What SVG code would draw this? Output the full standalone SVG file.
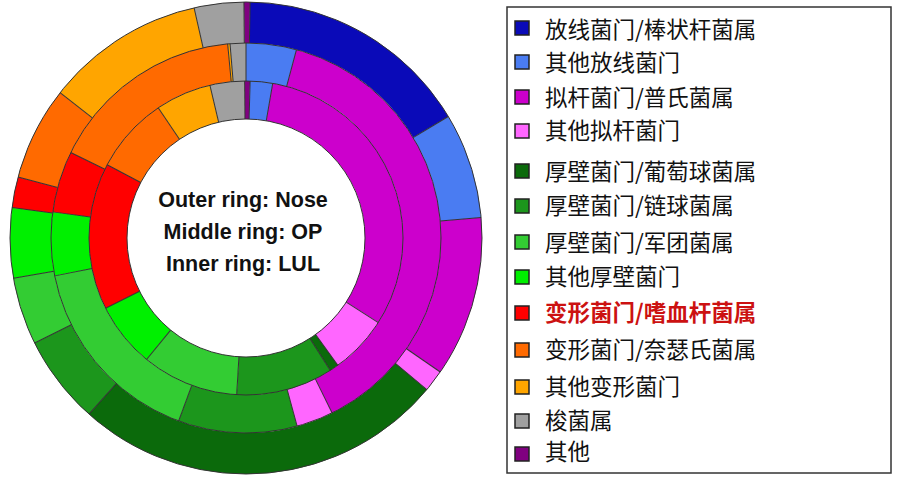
<svg xmlns="http://www.w3.org/2000/svg" width="900" height="479" viewBox="0 0 900 479">
<style>
.s{fill:none}
.o{stroke-width:41}
.m{stroke-width:38}
.i{stroke-width:38}
.sep{stroke:#333;stroke-width:1}
.ring{fill:none;stroke:#333;stroke-width:1}
.ct{font-family:"Liberation Sans",Arial,sans-serif;font-weight:bold;font-size:21.5px;fill:#111;text-anchor:middle}
.lt{font-family:"Noto Sans CJK SC","Liberation Sans",sans-serif;font-size:22.5px;fill:#111}
.sq{stroke:#222;stroke-width:1.5}
</style>
<rect width="900" height="479" fill="#fff"/>
<g transform="translate(246,238)">
<g id="outer-ring" transform="rotate(-90)">
<circle class="s o" r="215.5" pathLength="360" stroke="#800080" stroke-dasharray="1.5 358.5" stroke-dashoffset="0.5"/>
<circle class="s o" r="215.5" pathLength="360" stroke="#0a0ab8" stroke-dasharray="58 302" stroke-dashoffset="-1"/>
<circle class="s o" r="215.5" pathLength="360" stroke="#4a7cf2" stroke-dasharray="26 334" stroke-dashoffset="-59"/>
<circle class="s o" r="215.5" pathLength="360" stroke="#cc00cc" stroke-dasharray="39.6 320.4" stroke-dashoffset="-85"/>
<circle class="s o" r="215.5" pathLength="360" stroke="#ff66ff" stroke-dasharray="5.4 354.6" stroke-dashoffset="-124.6"/>
<circle class="s o" r="215.5" pathLength="360" stroke="#0b6a0b" stroke-dasharray="91.7 268.3" stroke-dashoffset="-130"/>
<circle class="s o" r="215.5" pathLength="360" stroke="#1c961c" stroke-dasharray="21.9 338.1" stroke-dashoffset="-221.7"/>
<circle class="s o" r="215.5" pathLength="360" stroke="#33cc33" stroke-dasharray="16.6 343.4" stroke-dashoffset="-243.6"/>
<circle class="s o" r="215.5" pathLength="360" stroke="#00f000" stroke-dasharray="17.2 342.8" stroke-dashoffset="-260.2"/>
<circle class="s o" r="215.5" pathLength="360" stroke="#ff0000" stroke-dasharray="7.6 352.4" stroke-dashoffset="-277.4"/>
<circle class="s o" r="215.5" pathLength="360" stroke="#ff6a00" stroke-dasharray="23 337" stroke-dashoffset="-285"/>
<circle class="s o" r="215.5" pathLength="360" stroke="#ffa500" stroke-dasharray="39.3 320.7" stroke-dashoffset="-308"/>
<circle class="s o" r="215.5" pathLength="360" stroke="#a0a0a0" stroke-dasharray="12.2 347.8" stroke-dashoffset="-347.3"/>
</g>
<g id="middle-ring" transform="rotate(-90)">
<circle class="s m" r="176" pathLength="360" stroke="#4a7cf2" stroke-dasharray="15 345" stroke-dashoffset="0"/>
<circle class="s m" r="176" pathLength="360" stroke="#cc00cc" stroke-dasharray="138.8 221.2" stroke-dashoffset="-15"/>
<circle class="s m" r="176" pathLength="360" stroke="#ff66ff" stroke-dasharray="11 349" stroke-dashoffset="-153.8"/>
<circle class="s m" r="176" pathLength="360" stroke="#1c961c" stroke-dasharray="35.4 324.6" stroke-dashoffset="-164.8"/>
<circle class="s m" r="176" pathLength="360" stroke="#33cc33" stroke-dasharray="58.6 301.4" stroke-dashoffset="-200.2"/>
<circle class="s m" r="176" pathLength="360" stroke="#00f000" stroke-dasharray="18.9 341.1" stroke-dashoffset="-258.8"/>
<circle class="s m" r="176" pathLength="360" stroke="#ff0000" stroke-dasharray="18.3 341.7" stroke-dashoffset="-277.7"/>
<circle class="s m" r="176" pathLength="360" stroke="#ff6a00" stroke-dasharray="58.6 301.4" stroke-dashoffset="-296"/>
<circle class="s m" r="176" pathLength="360" stroke="#ffa500" stroke-dasharray="0.7 359.3" stroke-dashoffset="-354.6"/>
<circle class="s m" r="176" pathLength="360" stroke="#a0a0a0" stroke-dasharray="4.7 355.3" stroke-dashoffset="-355.3"/>
</g>
<g id="inner-ring" transform="rotate(-90)">
<circle class="s i" r="138" pathLength="360" stroke="#800080" stroke-dasharray="2 358" stroke-dashoffset="0.5"/>
<circle class="s i" r="138" pathLength="360" stroke="#4a7cf2" stroke-dasharray="8.3 351.7" stroke-dashoffset="-1.5"/>
<circle class="s i" r="138" pathLength="360" stroke="#cc00cc" stroke-dasharray="112.8 247.2" stroke-dashoffset="-9.8"/>
<circle class="s i" r="138" pathLength="360" stroke="#ff66ff" stroke-dasharray="21.6 338.4" stroke-dashoffset="-122.6"/>
<circle class="s i" r="138" pathLength="360" stroke="#0b6a0b" stroke-dasharray="3.3 356.7" stroke-dashoffset="-144.2"/>
<circle class="s i" r="138" pathLength="360" stroke="#1c961c" stroke-dasharray="35.9 324.1" stroke-dashoffset="-147.5"/>
<circle class="s i" r="138" pathLength="360" stroke="#33cc33" stroke-dasharray="35.9 324.1" stroke-dashoffset="-183.4"/>
<circle class="s i" r="138" pathLength="360" stroke="#00f000" stroke-dasharray="24.1 335.9" stroke-dashoffset="-219.3"/>
<circle class="s i" r="138" pathLength="360" stroke="#ff0000" stroke-dasharray="54.4 305.6" stroke-dashoffset="-243.4"/>
<circle class="s i" r="138" pathLength="360" stroke="#ff6a00" stroke-dasharray="28.2 331.8" stroke-dashoffset="-297.8"/>
<circle class="s i" r="138" pathLength="360" stroke="#ffa500" stroke-dasharray="20.7 339.3" stroke-dashoffset="-326"/>
<circle class="s i" r="138" pathLength="360" stroke="#a0a0a0" stroke-dasharray="12.8 347.2" stroke-dashoffset="-346.7"/>
</g>
<g id="connectors">
<circle class="ring" r="236"/><circle class="ring" r="195"/><circle class="ring" r="157"/><circle class="ring" r="119"/>
<g class="sep">
<line y1="-195" y2="-236" transform="rotate(-0.5)"/><line y1="-195" y2="-236" transform="rotate(1)"/><line y1="-195" y2="-236" transform="rotate(59)"/><line y1="-195" y2="-236" transform="rotate(85)"/><line y1="-195" y2="-236" transform="rotate(124.6)"/><line y1="-195" y2="-236" transform="rotate(130)"/><line y1="-195" y2="-236" transform="rotate(221.7)"/><line y1="-195" y2="-236" transform="rotate(243.6)"/><line y1="-195" y2="-236" transform="rotate(260.2)"/><line y1="-195" y2="-236" transform="rotate(277.4)"/><line y1="-195" y2="-236" transform="rotate(285)"/><line y1="-195" y2="-236" transform="rotate(308)"/><line y1="-195" y2="-236" transform="rotate(347.3)"/>
<line y1="-157" y2="-195" transform="rotate(0)"/><line y1="-157" y2="-195" transform="rotate(15)"/><line y1="-157" y2="-195" transform="rotate(153.8)"/><line y1="-157" y2="-195" transform="rotate(164.8)"/><line y1="-157" y2="-195" transform="rotate(200.2)"/><line y1="-157" y2="-195" transform="rotate(258.8)"/><line y1="-157" y2="-195" transform="rotate(277.7)"/><line y1="-157" y2="-195" transform="rotate(296)"/><line y1="-157" y2="-195" transform="rotate(354.6)"/><line y1="-157" y2="-195" transform="rotate(355.3)"/>
<line y1="-119" y2="-157" transform="rotate(-0.5)"/><line y1="-119" y2="-157" transform="rotate(1.5)"/><line y1="-119" y2="-157" transform="rotate(9.8)"/><line y1="-119" y2="-157" transform="rotate(122.6)"/><line y1="-119" y2="-157" transform="rotate(144.2)"/><line y1="-119" y2="-157" transform="rotate(147.5)"/><line y1="-119" y2="-157" transform="rotate(183.4)"/><line y1="-119" y2="-157" transform="rotate(219.3)"/><line y1="-119" y2="-157" transform="rotate(243.4)"/><line y1="-119" y2="-157" transform="rotate(297.8)"/><line y1="-119" y2="-157" transform="rotate(326)"/><line y1="-119" y2="-157" transform="rotate(346.7)"/>
</g>
</g>
</g>
<g id="center-label">
<text class="ct" x="243" y="207">Outer ring: Nose</text>
<text class="ct" x="243" y="239">Middle ring: OP</text>
<text class="ct" x="243" y="271">Inner ring: LUL</text>
</g>
<g id="legend">
<rect x="507" y="7" width="384" height="466" fill="#fff" stroke="#333" stroke-width="1.5"/>
<g id="lg1"><rect class="sq" x="515" y="21" width="14" height="14" fill="#0a0ab8"/><text class="lt" x="545" y="38">放线菌门/棒状杆菌属</text></g>
<g id="lg2"><rect class="sq" x="515" y="55" width="14" height="14" fill="#4a7cf2"/><text class="lt" x="545" y="71">其他放线菌门</text></g>
<g id="lg3"><rect class="sq" x="515" y="90" width="14" height="14" fill="#cc00cc"/><text class="lt" x="545" y="106">拟杆菌门/普氏菌属</text></g>
<g id="lg4"><rect class="sq" x="515" y="124" width="14" height="14" fill="#ff66ff"/><text class="lt" x="545" y="139">其他拟杆菌门</text></g>
<g id="lg5"><rect class="sq" x="515" y="164" width="14" height="14" fill="#0b6a0b"/><text class="lt" x="545" y="180">厚壁菌门/葡萄球菌属</text></g>
<g id="lg6"><rect class="sq" x="515" y="199" width="14" height="14" fill="#1c961c"/><text class="lt" x="545" y="214">厚壁菌门/链球菌属</text></g>
<g id="lg7"><rect class="sq" x="515" y="235" width="14" height="14" fill="#33cc33"/><text class="lt" x="545" y="251">厚壁菌门/军团菌属</text></g>
<g id="lg8"><rect class="sq" x="515" y="270" width="14" height="14" fill="#00f000"/><text class="lt" x="545" y="285">其他厚壁菌门</text></g>
<g id="lg9"><rect class="sq" x="515" y="306" width="14" height="14" fill="#ff0000"/><text class="lt" x="545" y="321" font-weight="bold" style="fill:#cc1111">变形菌门/嗜血杆菌属</text></g>
<g id="lg10"><rect class="sq" x="515" y="343" width="14" height="14" fill="#ff6a00"/><text class="lt" x="545" y="358">变形菌门/奈瑟氏菌属</text></g>
<g id="lg11"><rect class="sq" x="515" y="380" width="14" height="14" fill="#ffa500"/><text class="lt" x="545" y="395">其他变形菌门</text></g>
<g id="lg12"><rect class="sq" x="515" y="414" width="14" height="14" fill="#a0a0a0"/><text class="lt" x="545" y="429">梭菌属</text></g>
<g id="lg13"><rect class="sq" x="515" y="447" width="14" height="14" fill="#800080"/><text class="lt" x="545" y="460">其他</text></g>
</g>
</svg>
